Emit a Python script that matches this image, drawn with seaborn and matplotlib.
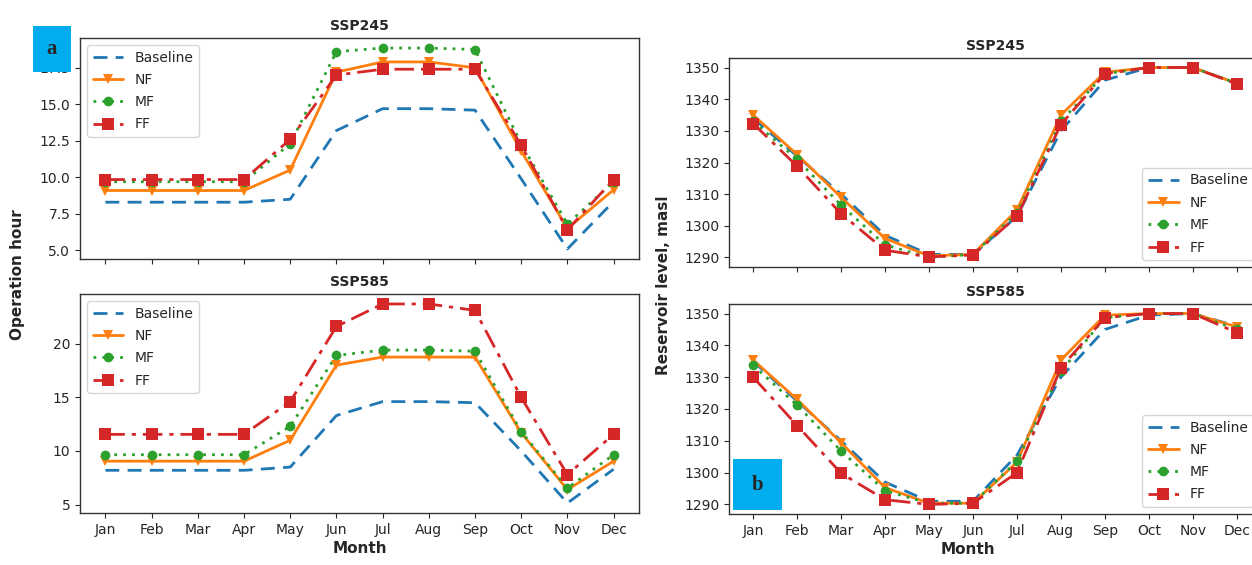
import numpy as np
import pandas as pd
import matplotlib
matplotlib.use("Agg")
import matplotlib.pyplot as plt
from matplotlib.patches import Rectangle
import seaborn as sns

months = ["Jan", "Feb", "Mar", "Apr", "May", "Jun", "Jul", "Aug", "Sep", "Oct", "Nov", "Dec"]
series = ["Baseline", "NF", "MF", "FF"]

# Operation hour, SSP245
op245_baseline = [8.3, 8.3, 8.3, 8.3, 8.5, 13.2, 14.7, 14.7, 14.6, 9.9, 5.1, 8.35]
op245_nf = [9.1, 9.1, 9.1, 9.1, 10.5, 17.2, 17.9, 17.9, 17.5, 11.8, 6.5, 9.15]
op245_mf = [9.7, 9.7, 9.7, 9.7, 12.3, 18.6, 18.85, 18.85, 18.75, 12.3, 6.8, 9.7]
op245_ff = [9.85, 9.85, 9.85, 9.85, 12.6, 17.0, 17.4, 17.4, 17.4, 12.2, 6.4, 9.85]

# Operation hour, SSP585
op585_baseline = [8.2, 8.2, 8.2, 8.2, 8.5, 13.3, 14.6, 14.6, 14.5, 10.0, 5.15, 8.3]
op585_nf = [9.05, 9.05, 9.05, 9.05, 11.0, 18.0, 18.75, 18.75, 18.75, 11.7, 6.4, 9.05]
op585_mf = [9.65, 9.65, 9.65, 9.65, 12.3, 18.9, 19.4, 19.4, 19.3, 11.8, 6.55, 9.65]
op585_ff = [11.55, 11.55, 11.55, 11.55, 14.6, 21.6, 23.7, 23.7, 23.1, 15.0, 7.8, 11.55]

# Reservoir level, SSP245
rl245_baseline = [1334, 1322, 1310, 1297, 1291, 1291, 1303, 1330, 1346, 1350, 1350, 1345]
rl245_nf = [1335, 1322.5, 1309, 1296, 1290.5, 1291, 1305, 1335, 1348.5, 1350, 1350, 1345]
rl245_mf = [1333, 1321, 1306.5, 1294, 1290, 1291, 1304, 1333, 1348, 1350, 1350, 1345]
rl245_ff = [1332.3, 1318.8, 1303.8, 1292.3, 1290.2, 1290.8, 1303, 1332, 1348, 1350, 1350, 1344.8]

# Reservoir level, SSP585
rl585_baseline = [1335, 1322.5, 1310, 1297, 1291, 1291, 1305.5, 1330, 1345, 1349.5, 1350, 1346]
rl585_nf = [1335.4, 1323, 1309.4, 1295.3, 1290.4, 1290.4, 1303.3, 1335.4, 1349.5, 1350, 1350, 1345.8]
rl585_mf = [1333.7, 1321.2, 1306.8, 1294.3, 1290.4, 1290.4, 1303.6, 1331.8, 1348.7, 1350, 1350, 1345]
rl585_ff = [1330, 1314.8, 1299.8, 1291.5, 1290, 1290.4, 1300, 1333, 1348.7, 1350, 1350, 1344]

panels = {
    "op245": (op245_baseline, op245_nf, op245_mf, op245_ff),
    "op585": (op585_baseline, op585_nf, op585_mf, op585_ff),
    "rl245": (rl245_baseline, rl245_nf, rl245_mf, rl245_ff),
    "rl585": (rl585_baseline, rl585_nf, rl585_mf, rl585_ff),
}

sns.set_style("ticks")
plt.rcParams["font.family"] = ["DejaVu Sans"]

styles = {
    "Baseline": dict(color="#1f77b4", linestyle=(0, (5, 3)), marker=None, markersize=0),
    "NF": dict(color="#ff7f0e", linestyle="-", marker="v", markersize=7),
    "MF": dict(color="#2ca02c", linestyle=(0, (1, 2.2)), marker="o", markersize=7),
    "FF": dict(color="#d62728", linestyle=(0, (7, 2.5, 1.5, 2.5)), marker="s", markersize=8),
}

fig = plt.figure(figsize=(12.52, 5.65), dpi=100)
W, H = 1252, 565

def add_ax(left, top, right, bottom):
    return fig.add_axes([left / W, (H - bottom) / H, (right - left) / W, (bottom - top) / H])

ax_lt = add_ax(80, 38, 639, 259)
ax_lb = add_ax(80, 294, 639, 513)
ax_rt = add_ax(729, 58, 1261, 267)
ax_rb = add_ax(729, 304, 1261, 514)

x_idx = np.arange(len(months))

def draw(ax, key, title, legend_loc, show_xlabels):
    vals = panels[key]
    for name, v in zip(series, vals):
        st = styles[name]
        df = pd.DataFrame({"x": x_idx, "y": v})
        kw = dict(color=st["color"], linestyle=st["linestyle"], linewidth=2.0, label=name)
        if st["marker"]:
            kw.update(marker=st["marker"], markersize=st["markersize"], markeredgewidth=0)
        sns.lineplot(data=df, x="x", y="y", ax=ax, **kw)
    ax.set_title(title, fontsize=10, fontweight="bold", pad=6)
    ax.set_xticks(x_idx)
    if show_xlabels:
        ax.set_xticklabels(months, fontsize=10)
    else:
        ax.set_xticklabels([])
    ax.tick_params(axis="y", labelsize=10)
    ax.set_xlabel("")
    ax.set_ylabel("")
    for s in ax.spines.values():
        s.set_color("#333333")
        s.set_linewidth(1.0)
    leg = ax.legend(loc=legend_loc, fontsize=10, frameon=True, handlelength=2.2,
                    labelspacing=0.6)
    leg.get_frame().set_edgecolor("#cccccc")

draw(ax_lt, "op245", "SSP245", "upper left", False)
draw(ax_lb, "op585", "SSP585", "upper left", True)
draw(ax_rt, "rl245", "SSP245", "lower right", False)
draw(ax_rb, "rl585", "SSP585", "lower right", True)

ax_lb.set_xlabel("Month", fontsize=11, fontweight="bold", labelpad=3)
ax_rb.set_xlabel("Month", fontsize=11, fontweight="bold", labelpad=3)
ax_rb.xaxis.label.set_x((968 - 729) / 532)

fig.text(18 / W, 1 - 275 / H, "Operation hour", rotation=90, fontsize=11,
         fontweight="bold", ha="center", va="center")
fig.text(663 / W, 1 - 285 / H, "Reservoir level, masl", rotation=90, fontsize=11,
         fontweight="bold", ha="center", va="center")

def label_box(x0, y0, x1, y1, txt):
    r = Rectangle((x0 / W, 1 - y1 / H), (x1 - x0) / W, (y1 - y0) / H,
                  transform=fig.transFigure, facecolor="#00AEEF", edgecolor="none", zorder=20)
    fig.patches.append(r)
    fig.text((x0 + x1) / 2 / W, 1 - (y0 + y1) / 2 / H, txt, fontsize=15, fontweight="bold",
             family=["Liberation Serif", "DejaVu Serif"], ha="center", va="center", zorder=21)

label_box(33, 26, 71, 72, "a")
label_box(733, 459, 782, 510, "b")

fig.savefig("out.png", dpi=100)
